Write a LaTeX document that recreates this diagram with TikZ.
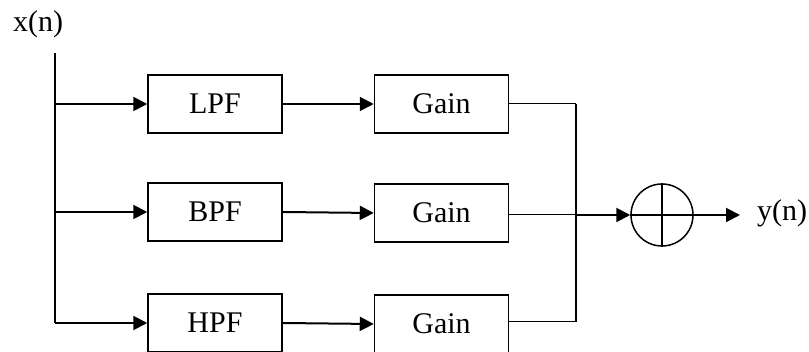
\documentclass[tikz,border=0pt]{standalone}
\usepackage{fontspec}
\setmainfont{Liberation Serif}
\usetikzlibrary{arrows.meta}
\begin{document}
\begin{tikzpicture}[x=1pt,y=-1pt,
  txt/.style={font=\fontsize{30}{30}\selectfont, inner sep=0pt},
  block/.style={txt, draw, line width=1.5pt, minimum width=134pt, minimum height=58pt},
  sumnode/.style={draw, circle, line width=1.5pt, minimum size=62pt, inner sep=0pt},
  sig/.style={line width=2pt, -{Triangle[length=14pt,width=14pt]}},
  bus/.style={line width=2pt},
  feed/.style={line width=1pt}]
\useasboundingbox (0,0) rectangle (809,352);

% input label and distribution line
\node[txt, anchor=base west] (xin) at (13,32) {x(n)};
\coordinate (itop) at (55,53);
\coordinate (b1) at (55,104);
\coordinate (b2) at (55,212);
\coordinate (b3) at (55,323);
\draw[bus] (itop) -- (b3);

% filter bank
\node[block] (lpf) at (215,104) {LPF};
\node[block] (bpf) at (215,212) {BPF};
\node[block] (hpf) at (215,323) {HPF};

% gain stages
\node[block] (g1) at (441.5,104) {Gain};
\node[block] (g2) at (441.5,213) {Gain};
\node[block] (g3) at (441.5,324) {Gain};

% summing junction
\node[sumnode] (sum) at (662,215) {};
\draw[line width=1.5pt] (sum.north) -- (sum.south);
\draw[line width=1.5pt] (sum.west) -- (sum.east);

% branches into the filters
\draw[sig] (b1) -- (lpf.west);
\draw[sig] (b2) -- (bpf.west);
\draw[sig] (b3) -- (hpf.west);

% filters into gains
\draw[sig] (lpf.east) -- (g1.west);
\draw[sig] (bpf.east) -- (g2.west);
\draw[sig] (hpf.east) -- (g3.west);

% gains combined on a common bus
\coordinate (j1) at (576,104);
\coordinate (j) at (576,215);
\coordinate (j3) at (576,322);
\draw[feed] (g1.east |- j1) -- (j1);
\draw[feed] (g2.east |- j) -- (j);
\draw[feed] (g3.east |- j3) -- (j3);
\draw[bus] (j1) -- (j3);
\draw[sig] (j) -- (sum.west);

% output
\coordinate (yout) at (740,215);
\draw[sig] (sum.east) -- (yout);
\node[txt, anchor=base west] (ylab) at (757,221) {y(n)};
\end{tikzpicture}
\end{document}
